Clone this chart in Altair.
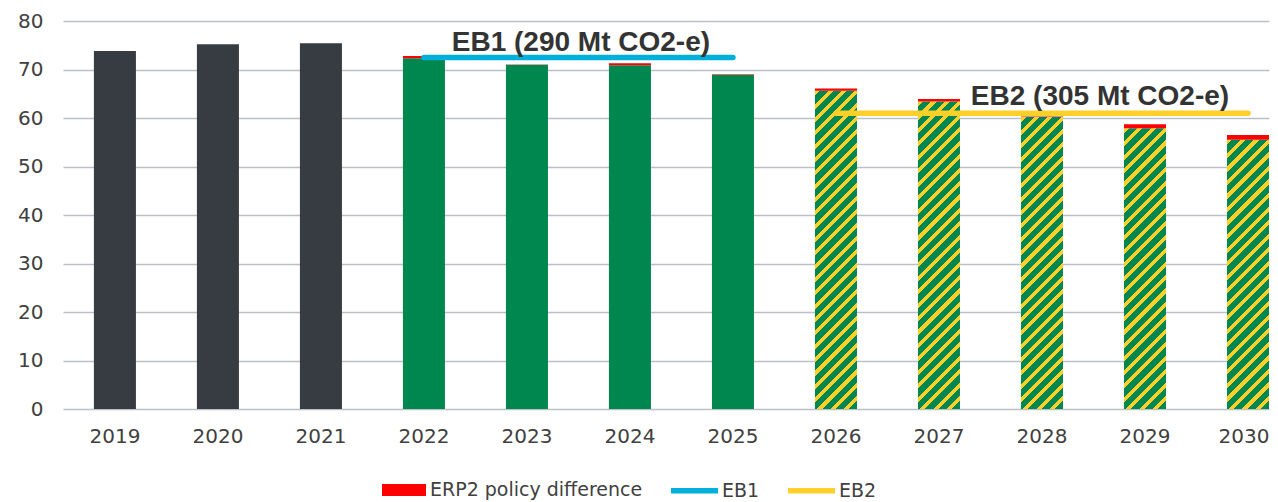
import altair as alt
import pandas as pd

# ---------------- data ----------------
years = ["2019", "2020", "2021", "2022", "2023", "2024", "2025",
         "2026", "2027", "2028", "2029", "2030"]
base_values = [73.8, 75.2, 75.4, 72.3, 71.0, 70.9, 68.9,
               65.6, 63.4, 60.2, 57.9, 55.5]
policy_diff = [0.0, 0.0, 0.0, 0.5, 0.05, 0.4, 0.1,
               0.5, 0.5, 0.1, 0.8, 1.0]
periods = ["Historical"] * 3 + ["EB1"] * 4 + ["EB2"] * 5

eb_names = ["EB1", "EB2"]
eb_levels = [72.5, 61.0]
eb_first_year = ["2022", "2026"]
eb_last_year = ["2025", "2030"]
eb_labels = ["EB1 (290 Mt CO2-e)", "EB2 (305 Mt CO2-e)"]
eb_label_year = ["2023", "2028"]
diff_label = "ERP2 policy difference"

# ---------------- styles / layout ----------------
DARK = "#373b42"
GREEN = "#00864f"
YELLOW = "#ffd02a"
RED = "#ff0000"
BLUE = "#00b0da"
GRID = "#bcc0c6"
TEXT = "#404040"

PLOT_W = 1206
PLOT_H = 388
Y_MAX = 80
PAD_INNER = 0.592
PAD_OUTER = 0.15
step = PLOT_W / (len(years) - PAD_INNER + 2 * PAD_OUTER)
bar_w = step * (1 - PAD_INNER)
label_dx = [54, 58]
label_dy = [-6, -8]

df = pd.DataFrame({
    "year": years,
    "base": base_values,
    "diff": policy_diff,
    "period": periods,
})
df["top"] = df["base"] + df["diff"]
df["legend"] = diff_label

rows = []
for n, lvl, y0, y1 in zip(eb_names, eb_levels, eb_first_year, eb_last_year):
    rows.append({"series": n, "year": y0, "value": lvl})
    rows.append({"series": n, "year": y1, "value": lvl})
lines_df = pd.DataFrame(rows)

labels_df = pd.DataFrame({"label": eb_labels, "year": eb_label_year, "value": eb_levels})

x_enc = alt.X("year:N", sort=years, title=None,
              scale=alt.Scale(paddingInner=PAD_INNER, paddingOuter=PAD_OUTER, align=1),
              axis=alt.Axis(labelAngle=0, domain=False, ticks=False, labelPadding=17,
                            grid=False,
                            labelOffset={"condition": {"test": "datum.value == '%s'" % years[-1],
                                                       "value": -4},
                                         "value": 0}))
y_scale = alt.Scale(domain=[0, Y_MAX], nice=False)
y_axis = alt.Axis(values=list(range(0, 81, 10)), domain=False, ticks=False,
                  labelPadding=20, grid=True, gridColor=GRID, gridWidth=1.6)


def hatch(value):
    h = value * PLOT_H / Y_MAX
    w = bar_w
    r = w / h
    b = (1 + r) / (1 + r * r)
    a = b * r
    n = max(1, round((w + h) / 13.5))
    stops = []
    for k in range(n):
        o0 = k / n
        o1 = (k + 0.38) / n
        o2 = (k + 1) / n
        stops += [
            alt.GradientStop(offset=o0, color=YELLOW),
            alt.GradientStop(offset=o1, color=YELLOW),
            alt.GradientStop(offset=o1, color=GREEN),
            alt.GradientStop(offset=o2, color=GREEN),
        ]
    return alt.LinearGradient(gradient="linear", stops=stops, x1=0, y1=0, x2=a, y2=b)


base = alt.Chart(df)

hist_bars = base.transform_filter(alt.datum.period == "Historical").mark_bar(color=DARK).encode(
    x=x_enc,
    y=alt.Y("base:Q", scale=y_scale, axis=y_axis, title=None),
)
eb1_bars = base.transform_filter(alt.datum.period == "EB1").mark_bar(color=GREEN).encode(
    x=x_enc, y=alt.Y("base:Q", scale=y_scale)
)
hatch_layers = []
for yr, v, p in zip(years, base_values, periods):
    if p == "EB2":
        hatch_layers.append(
            base.transform_filter(alt.datum.year == yr).mark_bar(color=hatch(v)).encode(
                x=x_enc, y=alt.Y("base:Q", scale=y_scale)
            )
        )

red_bars = base.transform_filter(alt.datum.diff > 0).mark_bar().encode(
    x=x_enc,
    y=alt.Y("base:Q", scale=y_scale),
    y2="top:Q",
    color=alt.Color("legend:N",
                    scale=alt.Scale(domain=[diff_label], range=[RED]),
                    legend=alt.Legend(title=None, orient="none", legendX=319, legendY=447,
                                      symbolType="M-1,-0.27H1V0.27H-1Z", symbolSize=1936,
                                      symbolStrokeWidth=0, labelOffset=4, padding=0,
                                      labelLimit=0,
                                      labelFont="DejaVu Sans", labelFontSize=19,
                                      labelColor=TEXT)),
)

eb_lines = alt.Chart(lines_df).mark_line(strokeWidth=5.5, strokeCap="round").encode(
    x=x_enc,
    y=alt.Y("value:Q", scale=y_scale),
    stroke=alt.Stroke("series:N",
                      scale=alt.Scale(domain=eb_names, range=[BLUE, YELLOW]),
                      legend=alt.Legend(title=None, orient="none", direction="horizontal",
                                        legendX=605, legendY=443, symbolType="stroke",
                                        symbolSize=2209, symbolStrokeWidth=5.5,
                                        labelOffset=1, columnPadding=17, padding=0,
                                        labelLimit=0,
                                        labelFont="DejaVu Sans", labelFontSize=19,
                                        labelColor=TEXT)),
)

text_layers = []
for lbl, dx, dy in zip(eb_labels, label_dx, label_dy):
    text_layers.append(
        alt.Chart(labels_df).transform_filter(alt.datum.label == lbl).mark_text(
            font="Liberation Sans", fontWeight="bold", fontSize=28, color="#333333",
            align="center", baseline="alphabetic", dx=dx, dy=dy
        ).encode(x=x_enc, y=alt.Y("value:Q", scale=y_scale), text="label:N")
    )

chart = alt.layer(
    hist_bars, eb1_bars, *hatch_layers, red_bars, eb_lines, *text_layers
).properties(
    width=PLOT_W,
    height=PLOT_H,
    autosize=alt.AutoSizeParams(type="none"),
    padding={"left": 55, "top": 13, "right": 1, "bottom": 93},
).configure_view(stroke=None).configure_axis(
    labelFont="DejaVu Sans", labelFontSize=20, labelColor=TEXT
)

chart.save("out.html", embed_options={"renderer": "svg", "actions": False})
